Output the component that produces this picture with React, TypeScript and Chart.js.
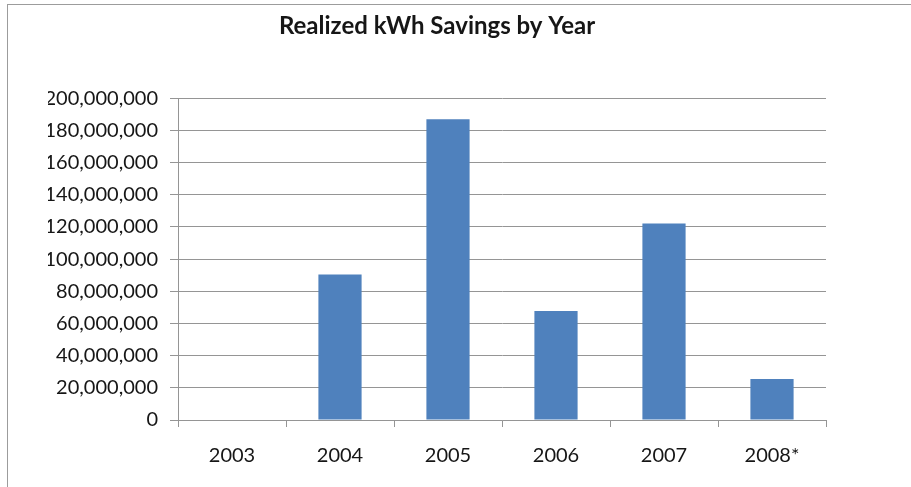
import React, { useEffect, useRef } from "react";
import { Chart, registerables } from "chart.js";

Chart.register(...registerables);

// Realized savings per program year (kWh)
const years: string[] = ["2003", "2004", "2005", "2006", "2007", "2008*"];
const savingsKWh: number[] = [0, 90500000, 187000000, 67700000, 122200000, 25500000];

// Value axis range
const yMin = 0;
const yMax = 200000000;
const yStep = 20000000;

const titleText = "Realized kWh Savings by Year";

const BAR_COLOR = "#4F81BD";
const LINE_COLOR = "#959595";
const TEXT_COLOR = "#161616";
const FONT = "Lato";

export default function App() {
  const canvasRef = useRef<HTMLCanvasElement | null>(null);

  useEffect(() => {
    const canvas = canvasRef.current;
    if (!canvas) return;

    const chart = new Chart(canvas, {
      type: "bar",
      data: {
        labels: years,
        datasets: [
          {
            label: "Realized kWh Savings",
            data: savingsKWh,
            backgroundColor: BAR_COLOR,
            borderWidth: 0,
            categoryPercentage: 1,
            barPercentage: 0.4,
          },
        ],
      },
      options: {
        responsive: false,
        animation: false,
        layout: { padding: { left: 48, right: 85, top: 0, bottom: 0 } },
        plugins: {
          legend: { display: false },
          tooltip: { enabled: false },
          title: {
            display: true,
            text: titleText,
            color: TEXT_COLOR,
            font: { family: FONT, size: 24, weight: "bold" },
            padding: { top: 12, bottom: 57.5 },
          },
        },
        scales: {
          x: {
            offset: true,
            grid: {
              offset: true,
              drawOnChartArea: false,
              drawTicks: true,
              tickLength: 7,
              color: LINE_COLOR,
            },
            border: { display: true, color: LINE_COLOR },
            ticks: {
              color: TEXT_COLOR,
              font: { family: FONT, size: 20 },
              padding: 17,
              maxRotation: 0,
            },
            afterFit: (scale: any) => {
              scale.height = 67;
            },
          },
          y: {
            min: yMin,
            max: yMax,
            grid: {
              color: LINE_COLOR,
              drawTicks: true,
              tickLength: 8,
            },
            border: { display: true, color: LINE_COLOR },
            ticks: {
              stepSize: yStep,
              color: TEXT_COLOR,
              font: { family: FONT, size: 20 },
              padding: 12,
              callback: (v: any) => Number(v).toLocaleString("en-US"),
            },
            afterFit: (scale: any) => {
              scale.width = 130;
            },
          },
        },
      },
    });

    return () => chart.destroy();
  }, []);

  return (
    <div
      style={{
        position: "absolute",
        left: 0,
        top: 0,
        width: 911,
        height: 487,
        overflow: "hidden",
        background: "#ffffff",
      }}
    >
      <div
        style={{
          position: "absolute",
          left: 7,
          top: 4,
          width: 1000,
          height: 600,
          borderLeft: "1px solid #9c9c9c",
          borderTop: "1px solid #9c9c9c",
        }}
      />
      <canvas
        ref={canvasRef}
        width={911}
        height={487}
        style={{ position: "absolute", left: 0, top: 0, width: 911, height: 487 }}
      />
    </div>
  );
}
